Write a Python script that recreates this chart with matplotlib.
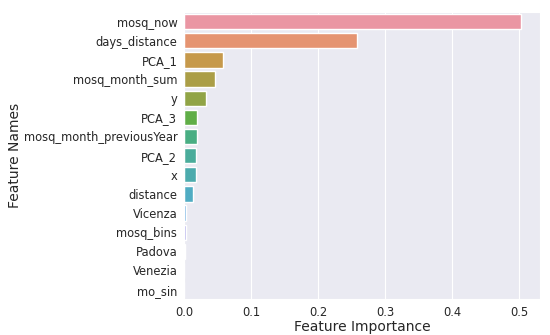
import matplotlib
matplotlib.use("Agg")
import matplotlib.pyplot as plt
import seaborn as sns

features = ["mosq_now", "days_distance", "PCA_1", "mosq_month_sum", "y", "PCA_3",
            "mosq_month_previousYear", "PCA_2", "x", "distance", "Vicenza",
            "mosq_bins", "Padova", "Venezia", "mo_sin"]
importance = [0.503, 0.258, 0.0575, 0.0466, 0.032, 0.019, 0.019, 0.018, 0.018,
              0.013, 0.0025, 0.002, 0.0006, 0.0002, 0.0001]

sns.set_style("darkgrid")
plt.rcParams["font.family"] = ["DejaVu Sans"]

fig = plt.figure(figsize=(5.5, 3.35), dpi=100)
ax = fig.add_axes([0.335, 0.107, 0.646, 0.857])
sns.barplot(x=importance, y=features, hue=features, legend=False,
            palette=sns.husl_palette(len(features), l=.7), ax=ax)
ax.set_xlim(0, 0.53)
ax.set_xlabel("Feature Importance", fontsize=10, labelpad=0.5)
ax.set_ylabel("Feature Names", fontsize=10, labelpad=1)
ax.tick_params(labelsize=8.3, pad=1.5)

fig.savefig("out.png", dpi=100)
